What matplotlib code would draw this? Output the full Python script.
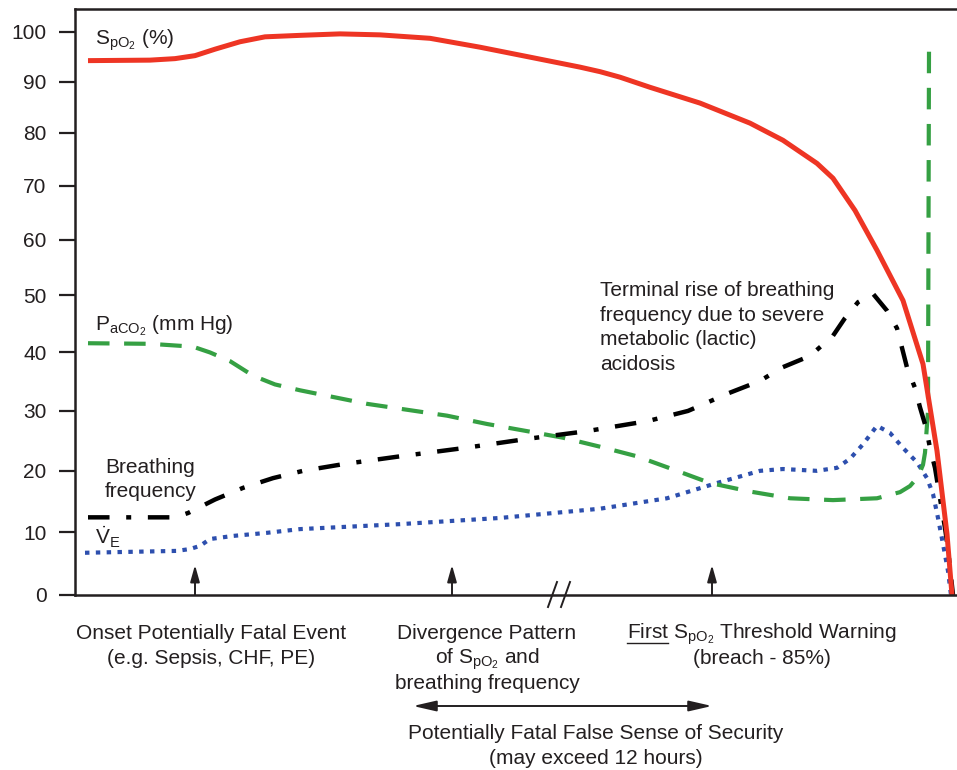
import numpy as np
import matplotlib.pyplot as plt
from matplotlib.lines import Line2D

# ---------------------------------------------------------------
# data (x = time position, arbitrary units)
# ---------------------------------------------------------------
spo2_t = [13, 75, 100, 120, 140, 165, 190, 225, 265, 305, 355, 405, 455, 505, 525,
          545, 575, 625, 675, 708, 742, 758, 780, 802, 828, 848, 862, 872, 877]
spo2_v = [94.2, 94.3, 94.6, 95.2, 96.5, 98.0, 99.0, 99.3, 99.6, 99.4, 98.7, 96.9, 94.9,
          92.9, 92.0, 90.9, 88.9, 85.8, 81.9, 78.6, 74.2, 71.4, 65.4, 58.1, 49.1, 38.0,
          23.3, 9.7, 0.0]

paco2_t = [13, 75, 118, 135, 155, 178, 200, 225, 292, 372, 412, 452, 488, 525, 562,
           602, 635, 675, 715, 758, 802, 825, 835, 843, 848, 850, 853, 854]
paco2_v = [41.6, 41.5, 41.0, 40.0, 38.5, 36.0, 34.5, 33.5, 31.2, 29.2, 27.8, 26.6, 25.5,
           24.0, 22.4, 20.0, 18.0, 16.6, 15.5, 15.2, 15.5, 16.5, 17.5, 19.0, 21.0, 23.0,
           30.0, 96.3]

rr_t = [13, 100, 113, 140, 168, 198, 228, 268, 325, 390, 452, 512, 573, 613, 632, 652,
        685, 707, 735, 758, 770, 783, 798, 812, 822, 827, 832, 840, 845, 851, 855, 860,
        865, 870, 873, 878]
rr_v = [12.4, 12.4, 13.1, 15.3, 17.2, 18.8, 20.0, 21.1, 22.4, 23.8, 25.3, 26.6, 28.3,
        30.0, 31.4, 32.9, 35.1, 37.4, 39.4, 42.9, 46.0, 48.8, 50.3, 47.3, 44.2, 40.8,
        37.4, 33.9, 30.6, 27.2, 23.8, 20.5, 15.5, 10.7, 7.3, 0.0]

ve_t = [10, 102, 115, 125, 135, 158, 192, 225, 325, 425, 525, 592, 642, 685, 708, 742,
        762, 775, 788, 802, 815, 828, 842, 852, 858, 863, 868, 873, 876]
ve_v = [6.7, 7.0, 7.3, 7.8, 8.9, 9.4, 9.9, 10.5, 11.3, 12.3, 13.8, 15.5, 18.0, 20.0,
        20.3, 20.0, 20.5, 22.0, 24.4, 27.5, 26.3, 23.8, 21.4, 18.8, 16.2, 12.3, 8.1,
        3.8, 0.0]

yticks = [0, 10, 20, 30, 40, 50, 60, 70, 80, 90, 100]

event_t = [120, 377, 637]      # upward arrows under the axis
break_t = 480                  # "//" time break
security_span = (338, 637)     # false sense of security arrow

# ---------------------------------------------------------------
plt.rcParams['font.family'] = ['Liberation Sans', 'DejaVu Sans']
plt.rcParams['mathtext.fontset'] = 'custom'
plt.rcParams['mathtext.rm'] = 'Liberation Sans'
plt.rcParams['mathtext.it'] = 'Liberation Sans:italic'
plt.rcParams['lines.scale_dashes'] = False

ink = '#231f20'
FS = 15
W, H = 957, 770


def fxy(px, py):
    return px / W, 1 - py / H


# the original y axis is slightly stretched towards the bottom
def fwd(v):
    v = np.asarray(v, float)
    return 6.34 * v - 0.0072 * v ** 2


def inv(p):
    p = np.asarray(p, float)
    return (6.34 - np.sqrt(np.clip(40.1956 - 0.0288 * p, 0, None))) / 0.0144


fig = plt.figure(figsize=(W / 100, H / 100), dpi=100)
ax = fig.add_axes([75 / W, 1 - 595 / H, 882 / W, 586 / H])
ax.set_yscale('function', functions=(fwd, inv))
ax.set_xlim(0, 882)
ax.set_ylim(0, 104.7)

ax.plot(ve_t, ve_v, color='#2d4fae', lw=3.0, dashes=(3.2, 4.6),
        dash_capstyle='butt', dash_joinstyle='round')
ax.plot(paco2_t, paco2_v, color='#35a043', lw=3.0, dashes=(15.5, 10.5),
        dash_capstyle='butt', dash_joinstyle='round')
ax.plot(rr_t, rr_v, color='black', lw=3.2, dashes=(15.5, 12, 3.6, 12),
        dash_capstyle='butt', dash_joinstyle='round')
ax.plot(spo2_t, spo2_v, color='#ee3524', lw=3.6, solid_capstyle='butt',
        solid_joinstyle='round')

for s in ['left', 'top', 'bottom']:
    ax.spines[s].set_color(ink)
    ax.spines[s].set_linewidth(1.8)
ax.spines['right'].set_visible(False)

ax.set_yticks(yticks)
ax.set_yticklabels([str(v) for v in yticks])
ax.set_xticks([])
ax.tick_params(axis='y', direction='out', length=11.5, width=1.6, pad=9,
               labelsize=FS, colors=ink)

# series labels
fig.text(*fxy(95, 45), r'S$_{\mathrm{pO}_2}$ (%)', fontsize=FS, color=ink, va='baseline')
fig.text(*fxy(95, 330), r'P$_{\mathrm{aCO}_2}$ (mm Hg)', fontsize=FS, color=ink, va='baseline')
fig.text(*fxy(105, 473), 'Breathing', fontsize=FS, color=ink, va='baseline')
fig.text(*fxy(105, 497), 'frequency', fontsize=FS, color=ink, va='baseline')
fig.text(*fxy(95, 545), r'$\dot{\mathrm{V}}_{\mathrm{E}}$', fontsize=FS, color=ink, va='baseline')

terminal = ['Terminal rise of breathing', 'frequency due to severe',
            'metabolic (lactic)', 'acidosis']
for i, s in enumerate(terminal):
    fig.text(*fxy(600, 296 + 24.5 * i), s, fontsize=FS, color=ink, va='baseline')

# event arrows below the curves
xax = ax.get_xaxis_transform()
for t in event_t:
    ax.annotate('', xy=(t, 30 / 586), xytext=(t, 0), xycoords=xax,
                arrowprops=dict(arrowstyle='-|>,head_length=0.5,head_width=0.14',
                                mutation_scale=20, lw=1.4, color=ink,
                                shrinkA=0, shrinkB=0))

# time break on the axis
for dx in (0, 13):
    ax.add_line(Line2D([break_t - 7 + dx, break_t + 2 + dx], [-12 / 586, 13 / 586],
                       transform=xax, color=ink, lw=1.4, clip_on=False))

ax.annotate('', xy=(security_span[1], -111 / 586), xytext=(security_span[0], -111 / 586),
            xycoords=xax, annotation_clip=False,
            arrowprops=dict(arrowstyle='<|-|>,head_length=0.7,head_width=0.16',
                            mutation_scale=20, lw=1.4, color=ink,
                            shrinkA=0, shrinkB=0))

# captions under the axis
captions = [
    (211, ['Onset Potentially Fatal Event', '(e.g. Sepsis, CHF, PE)']),
    (487, ['Divergence Pattern', r'of S$_{\mathrm{pO}_2}$ and', 'breathing frequency']),
    (762, [r'First S$_{\mathrm{pO}_2}$ Threshold Warning', '(breach - 85%)']),
    (596, ['Potentially Fatal False Sense of Security', '(may exceed 12 hours)']),
]
first_line = None
for cx, lines in captions:
    y0 = 739 if cx == 596 else 639
    for i, s in enumerate(lines):
        t = fig.text(*fxy(cx, y0 + 25 * i), s, fontsize=FS, color=ink,
                     ha='center', va='baseline')
        if s.startswith('First'):
            first_line = t

# underline the word "First"
r = fig.canvas.get_renderer()
bb = first_line.get_window_extent(r)
probe = fig.text(0, 0, 'First', fontsize=FS)
wf = probe.get_window_extent(r).width
probe.remove()
ux0 = bb.x0 / W
ux1 = (bb.x0 + wf) / W
fig.add_artist(Line2D([ux0, ux1], [1 - 642.5 / H] * 2, transform=fig.transFigure,
                      color=ink, lw=1.0))

fig.savefig('out.png', dpi=100)
plt.close(fig)
